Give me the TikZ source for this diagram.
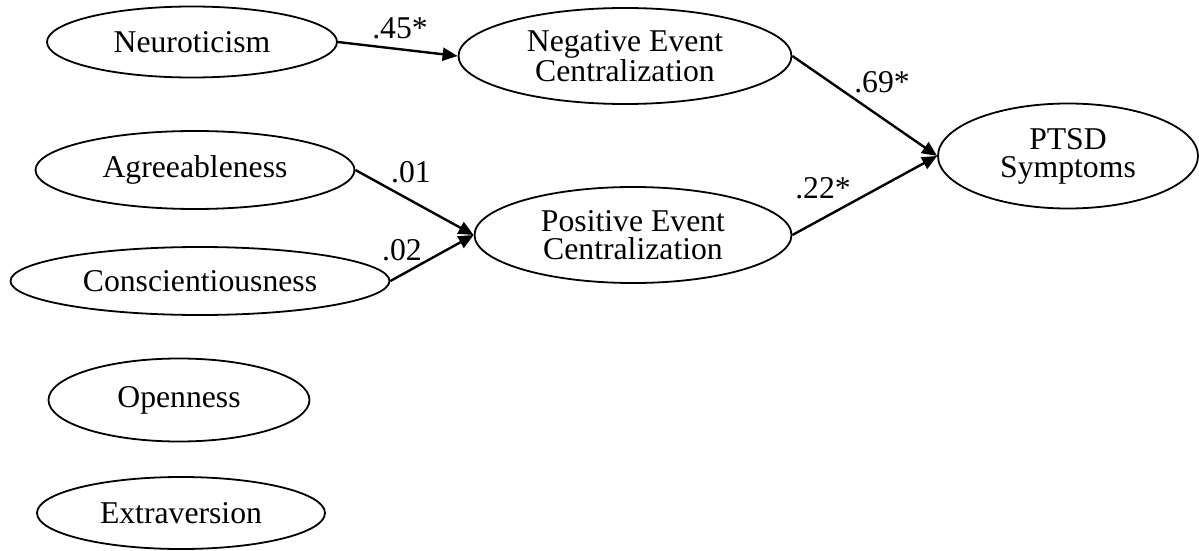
\documentclass[tikz,border=0pt]{standalone}
\usepackage{fontspec}
\setmainfont{Liberation Serif}
\usetikzlibrary{shapes.geometric,arrows.meta}
\begin{document}
\begin{tikzpicture}[x=1pt,y=-1pt,
  txt/.style={font=\fontsize{31.7pt}{28pt}\selectfont},
  latent/.style={txt,draw,ellipse,line width=1.8pt,inner sep=0pt,align=center},
  path/.style={line width=2.4pt,-{Triangle[length=15pt,width=13pt]}},
  coef/.style={txt,inner sep=0pt}]
\useasboundingbox (0,0) rectangle (1199,551);
\node[latent,minimum width=290pt,minimum height=71pt] (neu) at (192,42) {Neuroticism};
\node[latent,minimum width=319pt,minimum height=78pt] (agr) at (195,170) {Agreeableness};
\node[latent,minimum width=379pt,minimum height=68pt] (con) at (200,281) {Conscientiousness};
\node[latent,minimum width=261pt,minimum height=83pt] (ope) at (179,400) {Openness};
\node[latent,minimum width=288pt,minimum height=72pt] (ext) at (181,513) {Extraversion};
\node[latent,minimum width=333pt,minimum height=96pt] (nec) at (625,56) {Negative Event\\Centralization};
\node[latent,minimum width=317pt,minimum height=96pt] (pec) at (633,235) {Positive Event\\Centralization};
\node[latent,minimum width=260pt,minimum height=105pt] (ptsd) at (1068,156) {PTSD\\Symptoms};
\draw[path] (neu.east) -- (nec.west);
\draw[path] (agr.east) -- (pec.west);
\draw[path] (con.east) -- (pec.west);
\draw[path] (nec.east) -- (ptsd.west);
\draw[path] (pec.east) -- (ptsd.west);
\node[coef] (l45) at (400,28) {.45*};
\node[coef] (l01) at (411,172) {.01};
\node[coef] (l02) at (402,250) {.02};
\node[coef] (l69) at (882,82) {.69*};
\node[coef] (l22) at (823,188) {.22*};
\end{tikzpicture}
\end{document}
